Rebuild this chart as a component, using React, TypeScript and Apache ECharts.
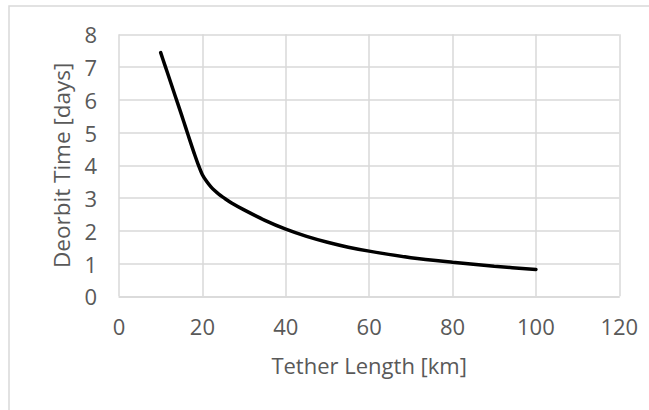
import React, { useEffect, useRef } from "react";
import * as echarts from "echarts";

const tetherLength = [10, 11, 12, 13, 14, 15, 16, 17, 18, 19, 20, 21, 22, 23, 24, 25, 27, 30, 35, 40, 45, 50, 55, 60, 70, 80, 90, 100];
const deorbitDays = [7.44, 7.06, 6.68, 6.3, 5.92, 5.54, 5.15, 4.76, 4.38, 4.02, 3.71, 3.51, 3.35, 3.22, 3.11, 3.02, 2.85, 2.64, 2.32, 2.05, 1.83, 1.65, 1.5, 1.38, 1.18, 1.04, 0.92, 0.82];

const xTitle = "Tether Length [km]";
const yTitle = "Deorbit Time [days]";

export default function App() {
  const ref = useRef<HTMLDivElement>(null);
  useEffect(() => {
    document.body.style.margin = "0";
    const chart = echarts.init(ref.current!, undefined, { renderer: "svg" });
    const font = "Open Sans";
    const labelColor = "#595959";
    chart.setOption({
      animation: false,
      backgroundColor: "#ffffff",
      graphic: [
        {
          type: "rect",
          shape: { x: 9, y: 6, width: 700, height: 500 },
          style: { fill: "none", stroke: "#d9d9d9", lineWidth: 1.5 },
          z: -1,
        },
      ],
      grid: { left: 119, top: 34.3, right: 29.7, bottom: 113.7 },
      xAxis: {
        type: "value",
        min: 0,
        max: 120,
        interval: 20,
        name: xTitle,
        nameLocation: "middle",
        nameGap: 58,
        nameTextStyle: { fontFamily: font, fontSize: 22, color: labelColor },
        axisLine: { show: true, lineStyle: { color: "#d9d9d9", width: 1.5 } },
        axisTick: { show: false },
        axisLabel: { fontFamily: font, fontSize: 22, color: labelColor, margin: 19 },
        splitLine: { show: true, lineStyle: { color: "#d9d9d9", width: 1.5 } },
      },
      yAxis: {
        type: "value",
        min: 0,
        max: 8,
        interval: 1,
        name: yTitle,
        nameLocation: "middle",
        nameGap: 46,
        nameTextStyle: { fontFamily: font, fontSize: 22.5, color: labelColor },
        axisLine: { show: false },
        axisTick: { show: false },
        axisLabel: { fontFamily: font, fontSize: 22, color: labelColor, margin: 22 },
        splitLine: { show: true, lineStyle: { color: "#d9d9d9", width: 1.5 } },
      },
      series: [
        {
          type: "line",
          data: tetherLength.map((x, i) => [x, deorbitDays[i]]),
          smooth: 0.3,
          showSymbol: false,
          lineStyle: { color: "#000000", width: 3.5, cap: "round" },
        },
      ],
    });
    return () => chart.dispose();
  }, []);
  return <div ref={ref} style={{ width: 649, height: 410 }} />;
}
